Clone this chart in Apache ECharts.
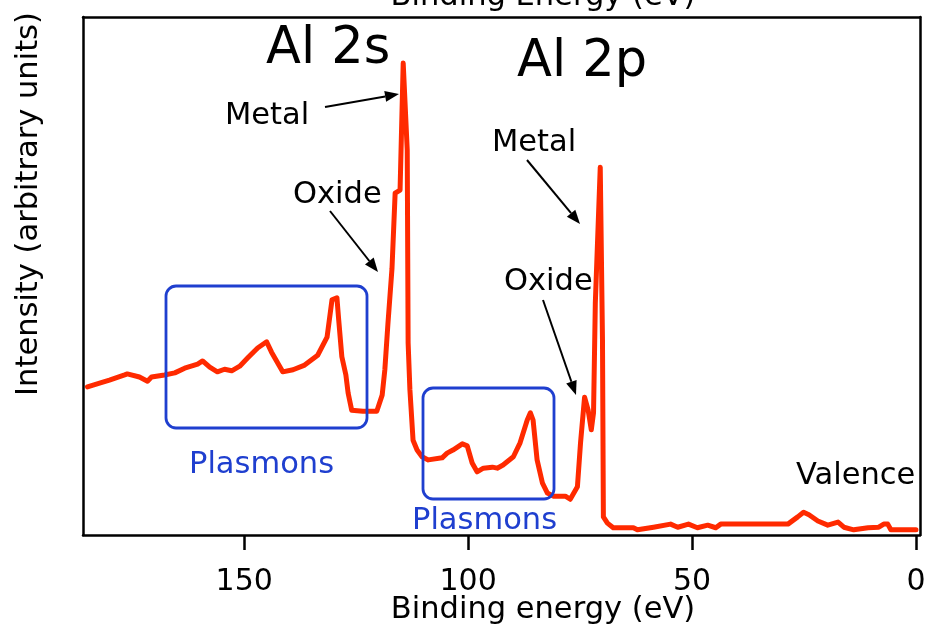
<!DOCTYPE html>
<html>
<head>
<meta charset="utf-8">
<script src="https://cdn.jsdelivr.net/npm/echarts@6/dist/echarts.min.js"></script>
<style>
  html, body { margin: 0; padding: 0; background: #fff; }
  #chart { width: 930px; height: 631px; }
</style>
</head>
<body>
<div id="chart"></div>
<script>
// XPS survey of aluminium: binding energy (eV) against intensity (arbitrary units)
const energy = [
  185.0, 182.3, 180.1, 176.7, 176.1, 173.4, 171.6, 170.7, 167.8, 165.5,
  163.3, 160.4, 159.3, 157.7, 156.0, 154.4, 152.8, 151.0, 149.2, 147.0,
  145.0, 143.9, 141.4, 139.1, 136.5, 133.6, 131.5, 130.4, 129.3, 128.9,
  128.2, 127.3, 126.8, 126.0, 123.5, 120.4, 119.2, 118.6, 117.9, 117.0,
  116.3, 115.2, 114.5, 113.6, 113.4, 113.0, 112.3, 111.4, 110.3, 108.9,
  105.8, 104.7, 103.4, 101.3, 100.2, 99.1, 98.0, 96.6, 94.6, 93.5,
  92.2, 89.9, 88.4, 86.8, 86.1, 85.5, 84.6, 83.4, 82.3, 81.0,
  78.3, 77.2, 75.6, 74.9, 74.0, 73.2, 72.5, 72.0, 71.6, 70.5,
  70.0, 69.8, 68.9, 67.6, 63.1, 62.2, 58.6, 54.8, 53.2, 50.8,
  48.8, 46.5, 44.7, 43.6, 28.6, 26.4, 25.1, 23.9, 21.9, 19.7,
  17.4, 16.1, 13.9, 10.7, 8.3, 7.2, 6.3, 5.6, 0.0
];
const intensity = [
  28.6, 29.3, 29.9, 30.9, 31.1, 30.5, 29.7, 30.5, 30.9, 31.3,
  32.2, 33.0, 33.6, 32.4, 31.5, 32.0, 31.7, 32.6, 34.2, 36.1,
  37.3, 35.3, 31.5, 31.9, 32.8, 34.7, 38.2, 45.4, 45.8, 41.5,
  34.4, 30.9, 27.4, 24.1, 23.9, 23.9, 27.0, 31.9, 40.9, 51.5,
  66.0, 66.6, 91.1, 74.3, 37.1, 28.0, 18.3, 16.4, 15.1, 14.5,
  14.9, 15.8, 16.4, 17.6, 17.2, 13.9, 12.2, 12.9, 13.1, 12.9,
  13.5, 15.1, 17.8, 22.2, 23.6, 22.2, 14.5, 10.0, 8.1, 7.5,
  7.5, 6.9, 9.3, 17.8, 26.6, 24.1, 20.3, 23.6, 44.8, 71.0,
  37.6, 3.5, 2.3, 1.4, 1.4, 1.0, 1.5, 2.1, 1.5, 2.1,
  1.4, 1.9, 1.4, 2.1, 2.1, 3.5, 4.4, 3.9, 2.7, 1.9,
  2.5, 1.5, 1.0, 1.4, 1.5, 2.1, 2.1, 1.0, 1.0
];
const tickValues = [0, 50, 100, 150];

const FONT = 'DejaVu Sans';
const RED = '#ff2a00';
const BLUE = '#1f3fcf';
const NOTE_SIZE = 30.5;

const chart = echarts.init(document.getElementById('chart'), null, { renderer: 'canvas' });

// Frame lines stay on the grid edges rather than snapping to zero
const frameLine = { show: true, onZero: false, lineStyle: { color: '#000', width: 2.5 } };
const hidden = { show: false };

function text(str, x, y, size, color) {
  return {
    type: 'text', x: x, y: y,
    style: { text: str, fontFamily: FONT, fontSize: size, fill: color || '#000',
             textAlign: 'left', textVerticalAlign: 'middle' },
    z: 20
  };
}
function centeredText(str, x, y, size, rotation) {
  return {
    type: 'text', x: x, y: y, rotation: rotation || 0,
    style: { text: str, fontFamily: FONT, fontSize: size, fill: '#000',
             textAlign: 'center', textVerticalAlign: 'middle' },
    z: 20
  };
}
function arrow(x1, y1, x2, y2) {
  const a = Math.atan2(y2 - y1, x2 - x1);
  const L = 14, W = 5.5;
  const bx = x2 - L * Math.cos(a), by = y2 - L * Math.sin(a);
  return [
    { type: 'line', shape: { x1: x1, y1: y1, x2: bx, y2: by },
      style: { stroke: '#000', lineWidth: 2 }, z: 20 },
    { type: 'polygon',
      shape: { points: [[x2, y2],
        [bx + W * Math.sin(a), by - W * Math.cos(a)],
        [bx - W * Math.sin(a), by + W * Math.cos(a)]] },
      style: { fill: '#000' }, z: 20 }
  ];
}
function box(x, y, w, h) {
  return { type: 'rect', shape: { x: x, y: y, width: w, height: h, r: 10 },
           style: { fill: null, stroke: BLUE, lineWidth: 2.8 }, z: 15 };
}

const graphics = [
  centeredText('Binding Energy (eV)', 543, -3, 30.5),
  centeredText('Binding energy (eV)', 543, 610, 30.5),
  centeredText('Intensity (arbitrary units)', 29, 204, 30.5, Math.PI / 2),
  text('Al 2s', 266, 50, 51),
  text('Al 2p', 517, 63, 51),
  text('Metal', 225, 116, NOTE_SIZE),
  text('Oxide', 293, 195, NOTE_SIZE),
  text('Metal', 492, 143, NOTE_SIZE),
  text('Oxide', 504, 282, NOTE_SIZE),
  text('Plasmons', 189, 465, NOTE_SIZE, BLUE),
  text('Plasmons', 412, 521, NOTE_SIZE, BLUE),
  text('Valence', 796, 476, NOTE_SIZE),
  box(166, 286, 201, 142),
  box(423, 388, 131, 111)
].concat(
  arrow(325, 107, 399, 94),
  arrow(330, 211, 378, 272),
  arrow(527, 160, 580, 224),
  arrow(543, 300, 576, 395)
);

chart.setOption({
  animation: false,
  backgroundColor: '#fff',
  grid: { left: 83, right: 10, top: 17, bottom: 96 },
  xAxis: [
    {
      type: 'value', position: 'bottom', min: -0.9, max: 186, inverse: true,
      axisLine: frameLine,
      axisTick: { show: true, inside: false, length: 15, customValues: tickValues,
                  lineStyle: { color: '#000', width: 2.5 } },
      axisLabel: { customValues: tickValues, fontFamily: FONT, fontSize: 30,
                   color: '#000', margin: 32 },
      splitLine: hidden
    },
    {
      type: 'value', position: 'top', min: -0.9, max: 186, inverse: true,
      axisLine: frameLine, axisTick: hidden, axisLabel: hidden, splitLine: hidden
    }
  ],
  yAxis: [
    { type: 'value', position: 'left', min: 0, max: 100,
      axisLine: frameLine, axisTick: hidden, axisLabel: hidden, splitLine: hidden },
    { type: 'value', position: 'right', min: 0, max: 100,
      axisLine: frameLine, axisTick: hidden, axisLabel: hidden, splitLine: hidden }
  ],
  series: [{
    type: 'line',
    xAxisIndex: 0, yAxisIndex: 0,
    data: energy.map((e, i) => [e, intensity[i]]),
    showSymbol: false,
    lineStyle: { color: RED, width: 5, cap: 'round', join: 'round' },
    z: 10
  }],
  graphic: graphics
});
</script>
</body>
</html>
